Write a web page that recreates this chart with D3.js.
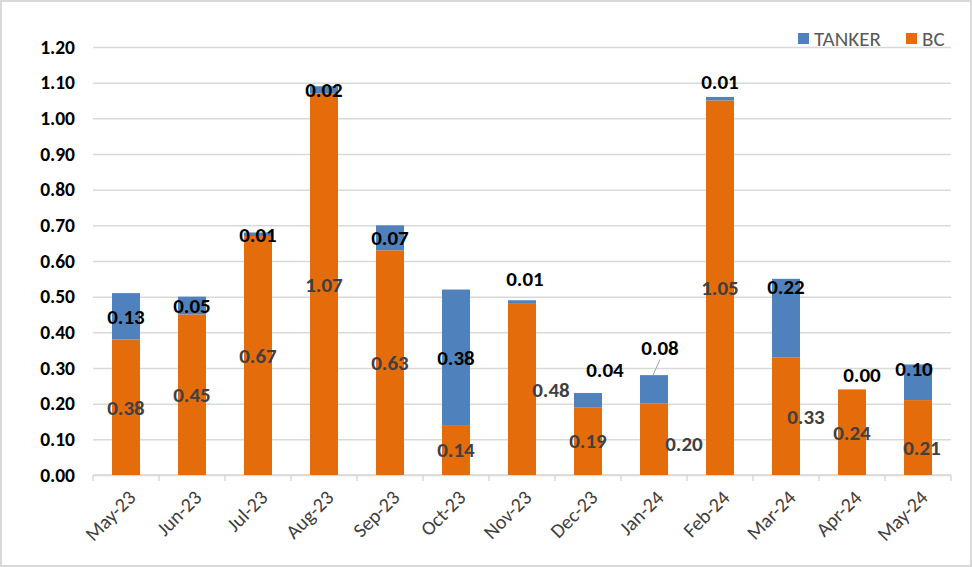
<!DOCTYPE html>
<html>
<head>
<meta charset="utf-8">
<script src="https://cdn.jsdelivr.net/npm/d3@7"></script>
<style>
  html, body { margin: 0; padding: 0; background: #fff; }
  #chart { width: 972px; height: 567px; }
  text { font-family: Carlito, Calibri, Lato, sans-serif; }
</style>
</head>
<body>
<div id="chart"></div>
<script>
const months = ['May-23', 'Jun-23', 'Jul-23', 'Aug-23', 'Sep-23', 'Oct-23', 'Nov-23',
  'Dec-23', 'Jan-24', 'Feb-24', 'Mar-24', 'Apr-24', 'May-24'];
const bc = [0.38, 0.45, 0.67, 1.07, 0.63, 0.14, 0.48, 0.19, 0.20, 1.05, 0.33, 0.24, 0.21];
const tanker = [0.13, 0.05, 0.01, 0.02, 0.07, 0.38, 0.01, 0.04, 0.08, 0.01, 0.22, 0.00, 0.10];
const yTicks = [0, 0.1, 0.2, 0.3, 0.4, 0.5, 0.6, 0.7, 0.8, 0.9, 1.0, 1.1, 1.2];

// label nudges (dx, dy) copied from the hand-moved labels in the original
const bcNudge = [[0, 0], [0, 0], [0, 0], [0, 0], [0, 0], [0, 0], [29, 0],
  [0, 0], [30, 4], [0, 0], [20, 0], [0, 0], [4, 10]];
const tankerNudge = [[0, 0], [0, 0], [0, 0], [0, 0], [0, 0], [0, 0], [3, -23],
  [17, -30], [6, -42], [0, -17], [0, -31], [10, -15], [-4, -14]];

const width = 972;
const height = 567;
const margin = { top: 47, right: 21, bottom: 92, left: 93 };

const data = months.map((m, i) => ({ month: m, bc: bc[i], tanker: tanker[i], i }));

const x_scale = d3
  .scaleBand()
  .range([margin.left, width - margin.right])
  .domain(months)
  .paddingInner(0.576)
  .paddingOuter(0.288);
const y_scale = d3
  .scaleLinear()
  .range([height - margin.bottom, margin.top])
  .domain([0, 1.2]);

const svg = d3
  .select('#chart')
  .append('svg')
  .attr('width', width)
  .attr('height', height)
  .attr('viewBox', [0, 0, width, height]);

// outer frame
svg.append('rect')
  .attr('x', 1).attr('y', 1)
  .attr('width', width - 2).attr('height', height - 2)
  .attr('fill', '#fff')
  .attr('stroke', '#d9d9d9')
  .attr('stroke-width', 2);

// gridlines + y labels
const yAxis = svg
  .append('g')
  .attr('transform', `translate(${margin.left},0)`)
  .call(d3.axisLeft(y_scale).tickValues(yTicks).tickFormat(d3.format('.2f'))
    .tickSize(-(width - margin.left - margin.right)).tickPadding(18));
yAxis.select('.domain').remove();
yAxis.selectAll('.tick line').attr('stroke', '#d9d9d9').attr('stroke-width', 1.5);
yAxis.selectAll('.tick text')
  .attr('fill', '#000')
  .attr('font-size', 19.5)
  .attr('font-weight', 'bold');

// x axis with ticks between categories
const step = x_scale.step();
const xAxis = svg
  .append('g')
  .attr('transform', `translate(0, ${height - margin.bottom})`);
xAxis.append('line')
  .attr('x1', margin.left).attr('x2', width - margin.right)
  .attr('stroke', '#d9d9d9').attr('stroke-width', 1.5);
xAxis.selectAll('line.tk')
  .data(d3.range(months.length + 1))
  .enter().append('line')
  .attr('class', 'tk')
  .attr('x1', (d) => margin.left + d * step)
  .attr('x2', (d) => margin.left + d * step)
  .attr('y1', 0).attr('y2', 6)
  .attr('stroke', '#d9d9d9').attr('stroke-width', 1.5);
xAxis.selectAll('text')
  .data(months)
  .enter().append('text')
  .attr('transform', (d) => `translate(${x_scale(d) + x_scale.bandwidth() / 2 + 6}, 19) rotate(-45)`)
  .attr('text-anchor', 'end')
  .attr('dy', '0.35em')
  .attr('font-size', 20)
  .attr('fill', '#404040')
  .text((d) => d);

// stacked bars
const bar = svg.selectAll('g.bar').data(data).enter().append('g').attr('class', 'bar');

bar.append('rect')
  .attr('x', (d) => x_scale(d.month))
  .attr('y', (d) => y_scale(d.bc))
  .attr('width', x_scale.bandwidth())
  .attr('height', (d) => y_scale(0) - y_scale(d.bc))
  .attr('fill', '#e46c0a');

bar.append('rect')
  .attr('x', (d) => x_scale(d.month))
  .attr('y', (d) => y_scale(d.bc + d.tanker))
  .attr('width', x_scale.bandwidth())
  .attr('height', (d) => y_scale(d.bc) - y_scale(d.bc + d.tanker))
  .attr('fill', '#4f81bd');

// data labels
const fmt = d3.format('.2f');
const cx = (d) => x_scale(d.month) + x_scale.bandwidth() / 2;

bar.append('text')
  .attr('x', (d) => cx(d) + bcNudge[d.i][0])
  .attr('y', (d) => y_scale(d.bc / 2) + bcNudge[d.i][1])
  .attr('dy', '0.35em')
  .attr('text-anchor', 'middle')
  .attr('font-size', 21)
  .attr('font-weight', 'bold')
  .attr('fill', '#404040')
  .text((d) => fmt(d.bc));

bar.append('text')
  .attr('x', (d) => cx(d) + tankerNudge[d.i][0])
  .attr('y', (d) => y_scale(d.bc + d.tanker / 2) + tankerNudge[d.i][1])
  .attr('dy', '0.35em')
  .attr('text-anchor', 'middle')
  .attr('font-size', 21)
  .attr('font-weight', 'bold')
  .attr('fill', '#000')
  .text((d) => fmt(d.tanker));

// leader line for Jan-24 tanker label
const jan = data[8];
svg.append('line')
  .attr('x1', cx(jan) - 1)
  .attr('y1', y_scale(jan.bc + jan.tanker))
  .attr('x2', cx(jan) + tankerNudge[8][0])
  .attr('y2', y_scale(jan.bc + jan.tanker / 2) + tankerNudge[8][1] + 12)
  .attr('stroke', '#a6a6a6')
  .attr('stroke-width', 1);

// legend
const legend = svg.append('g').attr('transform', 'translate(798, 39)');
const items = [{ name: 'TANKER', color: '#4f81bd', x: 0 }, { name: 'BC', color: '#e46c0a', x: 108 }];
const li = legend.selectAll('g').data(items).enter().append('g')
  .attr('transform', (d) => `translate(${d.x},0)`);
li.append('rect').attr('x', 0).attr('y', -6).attr('width', 11).attr('height', 11).attr('fill', (d) => d.color);
li.append('text').attr('x', 16).attr('dy', '0.35em')
  .attr('font-size', 21).attr('fill', '#595959').text((d) => d.name);
</script>
</body>
</html>
